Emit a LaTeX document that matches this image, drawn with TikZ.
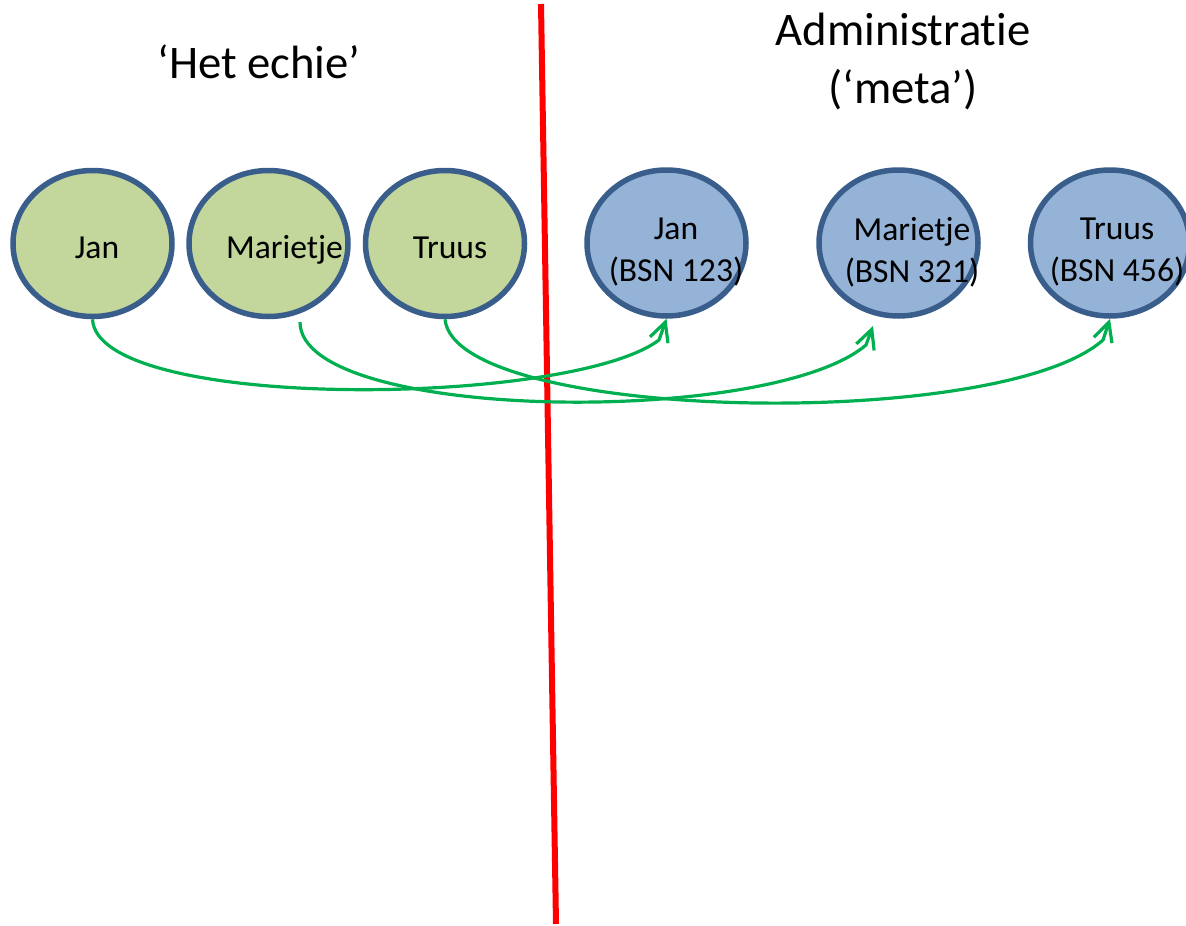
\documentclass[tikz,border=0pt]{standalone}
\usepackage{fontspec}
\setmainfont[Ligatures=CommonOff]{Carlito}
\usetikzlibrary{shapes.geometric,arrows.meta}

\definecolor{realfill}{HTML}{C3D69B}
\definecolor{adminfill}{HTML}{95B3D7}
\definecolor{rim}{HTML}{3A5E8C}
\definecolor{linkgreen}{HTML}{00B050}

\tikzset{
  person/.style={ellipse, draw=rim, line width=5.5pt,
    minimum width=159pt, minimum height=146pt, inner sep=0pt},
  real/.style={person, fill=realfill},
  admin/.style={person, fill=adminfill},
  label/.style={font=\fontsize{33.6}{42}\selectfont, align=center, inner sep=0pt},
  heading/.style={font=\fontsize{46.7}{58}\selectfont, align=center, inner sep=0pt},
  link/.style={draw=linkgreen, line width=3.2pt,
    -{Straight Barb[length=19pt, width=19pt]}},
  divider/.style={draw=red, line width=6pt}
}

\begin{document}
\begin{tikzpicture}[x=1pt, y=-1pt]
  \useasboundingbox (0,0) rectangle (1186,926);

  % headings of both halves
  \node[heading] (hreal) at (259,62) {‘Het echie’};
  \node[heading] (hadmin) at (903,62) {Administratie\\(‘meta’)};

  % the dividing line
  \coordinate (dtop) at (541,4);
  \coordinate (dbot) at (556,924);
  \draw[divider] (dtop) -- (dbot);

  % real persons
  \node[real] (gjan) at (92.5,243.5) {};
  \node[real] (gmar) at (268.5,243.5) {};
  \node[real] (gtru) at (445,243.5) {};
  \node[label, anchor=base] (tgjan) at (97,258) {Jan};
  \node[label, anchor=base] (tgmar) at (284.5,258) {Marietje};
  \node[label, anchor=base] (tgtru) at (450,258) {Truus};

  % registered persons
  \node[admin] (bjan) at (666.5,243) {};
  \node[admin] (bmar) at (898.5,243) {};
  \node[admin] (btru) at (1110,243) {};
  \node[label] (tbjan) at (676,252) {Jan\\(BSN 123)};
  \node[label] (tbmar) at (912,252) {Marietje\\(BSN 321)};
  \node[label] (tbtru) at (1117,252) {Truus\\(BSN 456)};

  % links from each person to their record
  \coordinate (mstart) at (300,322);
  \coordinate (mend) at (873,326);
  \draw[link] (gjan.south) .. controls (97,412) and (570,407) .. (659,340) -- (bjan.south);
  \draw[link] (mstart) .. controls (300,422) and (770,427) .. (866,345) -- (mend);
  \draw[link] (gtru.south) .. controls (455,422) and (1000,432) .. (1103,340) -- (btru.south);
\end{tikzpicture}
\end{document}
